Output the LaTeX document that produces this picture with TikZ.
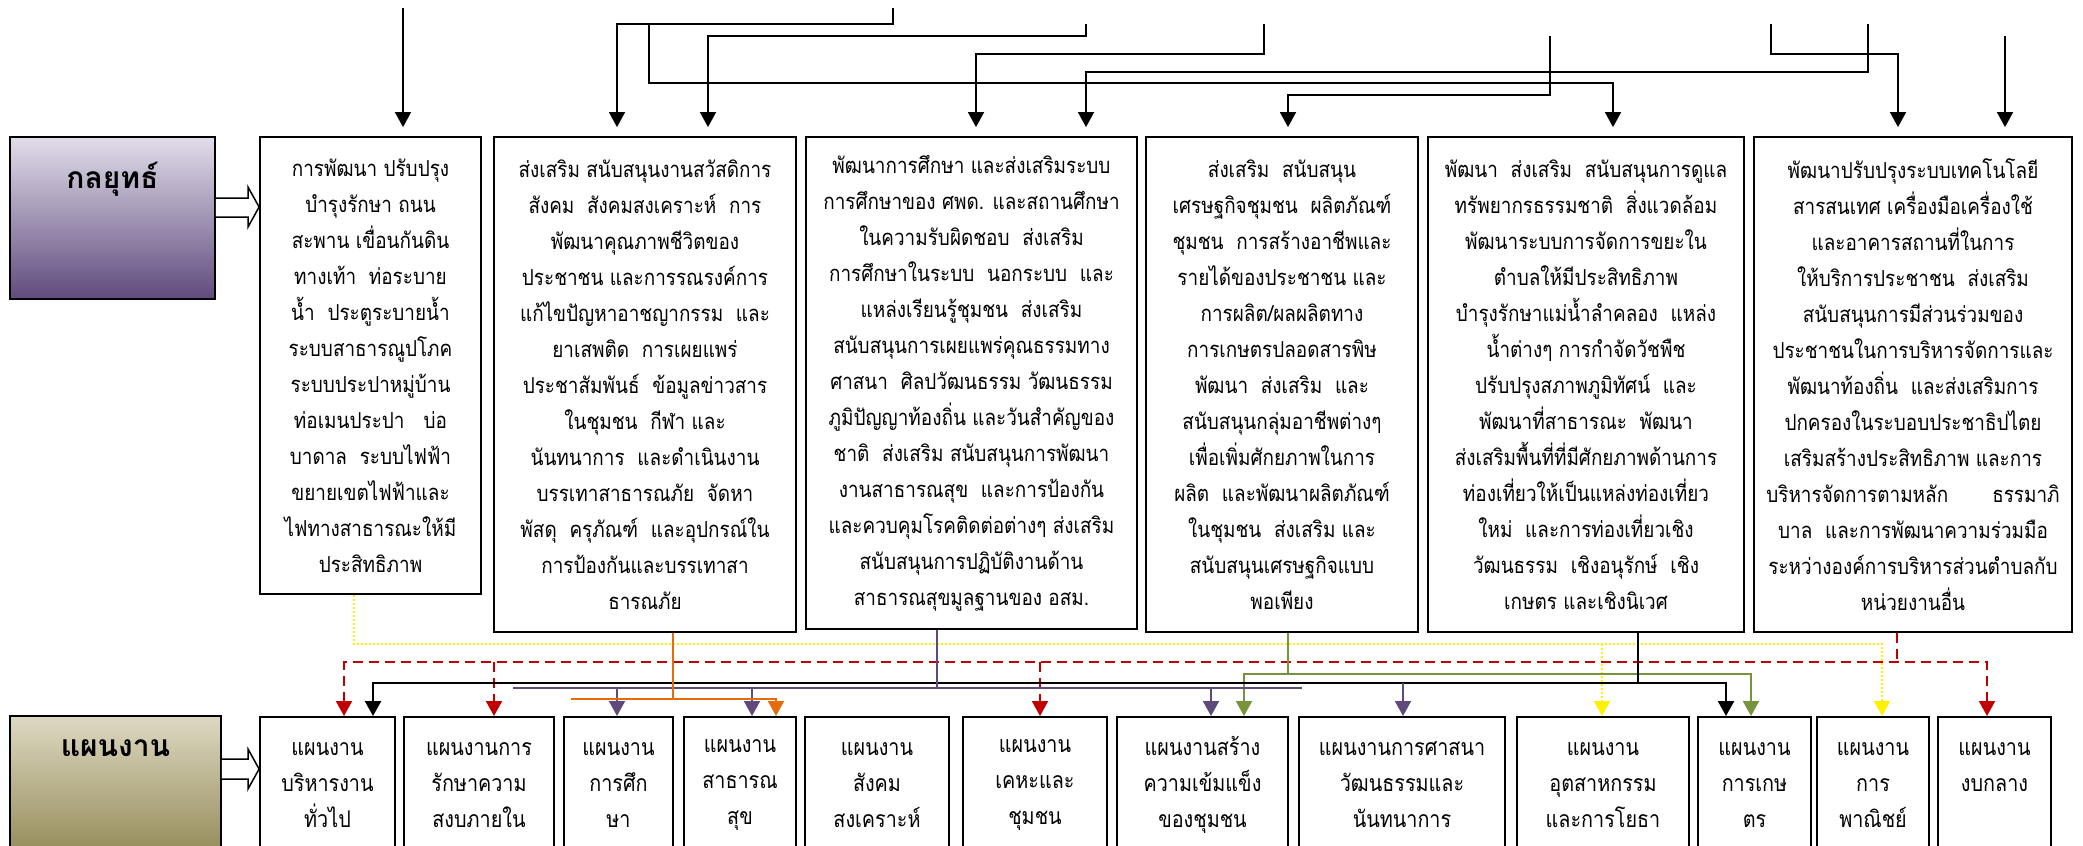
\documentclass[tikz,border=0pt]{standalone}
\usepackage{fontspec}
\newfontfamily\thaifont[Script=Thai]{Loma}
\newfontfamily\thainarrow[Script=Thai, FakeStretch=0.86]{Loma}
\usetikzlibrary{arrows.meta,positioning}

\definecolor{strtop}{HTML}{E2DDEA}
\definecolor{strbot}{HTML}{5F4B7D}
\definecolor{plantop}{HTML}{DDD8C2}
\definecolor{planbot}{HTML}{8F8550}
\definecolor{rred}{HTML}{C00000}
\definecolor{oorange}{HTML}{E46C0A}
\definecolor{ppurple}{HTML}{604A7B}
\definecolor{ggreen}{HTML}{77933C}

\tikzset{
  stratbox/.style={draw, line width=1.8pt, fill=white, align=center, inner sep=0pt,
    font=\thainarrow\fontsize{22}{36}\selectfont},
  planbox/.style={draw, line width=1.8pt, fill=white, align=center, inner sep=0pt,
    anchor=north, minimum height=136pt, font=\thainarrow\fontsize{23}{36}\selectfont},
  headbox/.style={draw, line width=1.8pt, inner sep=0pt},
  headtxt/.style={inner sep=0pt, font=\thaifont\bfseries\fontsize{30}{36}\selectfont},
  hollow/.style={draw, line width=1.5pt, fill=white, line join=miter},
  endtip/.style={-{Triangle[length=15pt,width=16pt]}},
  bothtip/.style={{Triangle[length=15pt,width=16pt]}-{Triangle[length=15pt,width=16pt]}},
  conn/.style={line width=1.6pt, endtip, shorten >=9pt},
  kline/.style={line width=2.4pt},
  rline/.style={rred, line width=2pt, dash pattern=on 10pt off 6pt},
  yline/.style={yellow, line width=1.6pt, dash pattern=on 1.6pt off 2.4pt},
  gline/.style={ggreen, line width=2pt},
  vline/.style={ppurple, line width=2pt},
  oline/.style={oorange, line width=2pt},
}

\newcommand{\stratboxes}{
  s1/260/481/594/{การพัฒนา ปรับปรุง\\บำรุงรักษา ถนน\\สะพาน เขื่อนกันดิน\\ทางเท้า~ ท่อระบาย\\น้ำ~ ประตูระบายน้ำ\\ระบบสาธารณูปโภค\\ระบบประปาหมู่บ้าน\\ท่อเมนประปา~~ บ่อ\\บาดาล~ ระบบไฟฟ้า\\ขยายเขตไฟฟ้าและ\\ไฟทางสาธารณะให้มี\\ประสิทธิภาพ},
  s2/494/796/632/{ส่งเสริม สนับสนุนงานสวัสดิการ\\สังคม~ สังคมสงเคราะห์~ การ\\พัฒนาคุณภาพชีวิตของ\\ประชาชน และการรณรงค์การ\\แก้ไขปัญหาอาชญากรรม~ และ\\ยาเสพติด~ การเผยแพร่\\ประชาสัมพันธ์~ ข้อมูลข่าวสาร\\ในชุมชน~ กีฬา และ\\นันทนาการ~ และดำเนินงาน\\บรรเทาสาธารณภัย~ จัดหา\\พัสดุ~ ครุภัณฑ์~ และอุปกรณ์ใน\\การป้องกันและบรรเทาสา\\ธารณภัย},
  s3/806/1137/629/{พัฒนาการศึกษา และส่งเสริมระบบ\\การศึกษาของ ศพด. และสถานศึกษา\\ในความรับผิดชอบ~ ส่งเสริม\\การศึกษาในระบบ~ นอกระบบ~ และ\\แหล่งเรียนรู้ชุมชน~ ส่งเสริม\\สนับสนุนการเผยแพร่คุณธรรมทาง\\ศาสนา~ ศิลปวัฒนธรรม วัฒนธรรม\\ภูมิปัญญาท้องถิ่น และวันสำคัญของ\\ชาติ~ ส่งเสริม สนับสนุนการพัฒนา\\งานสาธารณสุข~ และการป้องกัน\\และควบคุมโรคติดต่อต่างๆ ส่งเสริม\\สนับสนุนการปฏิบัติงานด้าน\\สาธารณสุขมูลฐานของ อสม.},
  s4/1146/1418/632/{ส่งเสริม~ สนับสนุน\\เศรษฐกิจชุมชน~ ผลิตภัณฑ์\\ชุมชน~ การสร้างอาชีพและ\\รายได้ของประชาชน และ\\การผลิต/ผลผลิตทาง\\การเกษตรปลอดสารพิษ\\พัฒนา~ ส่งเสริม~ และ\\สนับสนุนกลุ่มอาชีพต่างๆ\\เพื่อเพิ่มศักยภาพในการ\\ผลิต~ และพัฒนาผลิตภัณฑ์\\ในชุมชน~ ส่งเสริม และ\\สนับสนุนเศรษฐกิจแบบ\\พอเพียง},
  s5/1428/1744/632/{พัฒนา~ ส่งเสริม~ สนับสนุนการดูแล\\ทรัพยากรธรรมชาติ~ สิ่งแวดล้อม\\พัฒนาระบบการจัดการขยะใน\\ตำบลให้มีประสิทธิภาพ\\บำรุงรักษาแม่น้ำลำคลอง~ แหล่ง\\น้ำต่างๆ การกำจัดวัชพืช\\ปรับปรุงสภาพภูมิทัศน์~ และ\\พัฒนาที่สาธารณะ~ พัฒนา\\ส่งเสริมพื้นที่ที่มีศักยภาพด้านการ\\ท่องเที่ยวให้เป็นแหล่งท่องเที่ยว\\ใหม่~ และการท่องเที่ยวเชิง\\วัฒนธรรม~ เชิงอนุรักษ์~ เชิง\\เกษตร และเชิงนิเวศ},
  s6/1754/2072/632/{พัฒนาปรับปรุงระบบเทคโนโลยี\\สารสนเทศ เครื่องมือเครื่องใช้\\และอาคารสถานที่ในการ\\ให้บริการประชาชน~ ส่งเสริม\\สนับสนุนการมีส่วนร่วมของ\\ประชาชนในการบริหารจัดการและ\\พัฒนาท้องถิ่น~ และส่งเสริมการ\\ปกครองในระบอบประชาธิปไตย\\เสริมสร้างประสิทธิภาพ และการ\\บริหารจัดการตามหลัก\quad\quad ธรรมาภิ\\บาล~ และการพัฒนาความร่วมมือ\\ระหว่างองค์การบริหารส่วนตำบลกับ\\หน่วยงานอื่น}}

\newcommand{\planboxes}{
  p1/260/395/{แผนงาน\\บริหารงาน\\ทั่วไป},
  p2/404/554/{แผนงานการ\\รักษาความ\\สงบภายใน},
  p3/564/673/{แผนงาน\\การศึก\\ษา},
  p4/684/796/{แผนงาน\\สาธารณ\\สุข},
  p5/805/949/{แผนงาน\\สังคม\\สงเคราะห์},
  p6/963/1107/{แผนงาน\\เคหะและ\\ชุมชน},
  p7/1117/1288/{แผนงานสร้าง\\ความเข้มแข็ง\\ของชุมชน},
  p8/1299/1505/{แผนงานการศาสนา\\วัฒนธรรมและ\\นันทนาการ},
  p9/1517/1689/{แผนงาน\\อุตสาหกรรม\\และการโยธา},
  p10/1698/1811/{แผนงาน\\การเกษ\\ตร},
  p11/1817/1929/{แผนงาน\\การ\\พาณิชย์},
  p12/1938/2051/{แผนงาน\\งบกลาง\\\mbox{}}}

\begin{document}
\begin{tikzpicture}[x=1pt, y=-1pt]
\useasboundingbox (0,0) rectangle (2083,846);
\clip (0,0) rectangle (2083,846);
\fill[white] (0,0) rectangle (2083,846);

% headers
\node[headbox, top color=strtop, bottom color=strbot, minimum width=205pt, minimum height=162pt] (hdr1) at (112.5,218) {};
\node[headtxt, below=26pt of hdr1.north] (hdr1t) {กลยุทธ์};
\node[headbox, top color=plantop, bottom color=planbot, minimum width=211pt, minimum height=150pt, anchor=north] (hdr2) at (115.5,715) {};
\node[headtxt, below=24pt of hdr2.north] (hdr2t) {แผนงาน};

% strategy boxes
\foreach \n/\l/\r/\b/\txt in \stratboxes {
  \pgfmathsetmacro{\w}{\r-\l}
  \pgfmathsetmacro{\h}{\b-137}
  \node[stratbox, minimum width=\w pt, minimum height=\h pt] (\n) at ({(\l+\r)/2},{(137+\b)/2}) {\txt};
}

% plan boxes
\foreach \n/\l/\r/\txt in \planboxes {
  \pgfmathsetmacro{\w}{\r-\l}
  \node[planbox, minimum width=\w pt] (\n) at ({(\l+\r)/2},716) {\txt};
}

% hollow arrows
\draw[hollow] (hdr1.east |- 0,198) -- (248,198) -- (248,187) -- (s1.west |- 0,207) -- (248,227) -- (248,217) -- (hdr1.east |- 0,217);
\draw[hollow] (hdr2.east |- 0,759) -- (248,759) -- (248,749) -- (p1.west |- 0,769) -- (248,789) -- (248,779) -- (hdr2.east |- 0,779);

% lines from above
\coordinate (t1) at (403,8);
\coordinate (t2) at (893,8);
\coordinate (j2) at (649,24);
\coordinate (t3) at (1086,24);
\coordinate (t4) at (1264,24);
\coordinate (t5) at (1868,24);
\coordinate (t6) at (1550,36);
\coordinate (t7) at (1771,24);
\coordinate (t8) at (2005,36);
\draw[conn] (t1) -- (s1.north -| t1);
\draw[conn] (t2) |- (617,24) -- (s2.north -| 617,0);
\draw[conn] (j2) |- (1613,83) -- (s5.north -| 1613,0);
\draw[conn] (t3) |- (708,36) -- (s2.north -| 708,0);
\draw[conn] (t4) |- (976,54) -- (s3.north -| 976,0);
\draw[conn] (t5) |- (1086,72) -- (s3.north -| 1086,0);
\draw[conn] (t6) |- (1288,95) -- (s4.north -| 1288,0);
\draw[conn] (t7) |- (1898,54) -- (s6.north -| 1898,0);
\draw[conn] (t8) -- (s6.north -| t8);

% strategy -> plan
\draw[yline, endtip] (s1.south -| 354,0) |- (1882,644) -- (p11.north -| 1882,0);
\draw[yline, endtip] (1602,644) -- (p9.north -| 1602,0);

\draw[rline] (s6.south -| 1897,0) -- (1897,662);
\draw[rline, bothtip] (p1.north -| 344,0) |- (1987,662) -- (p12.north -| 1987,0);
\foreach \x/\p in {494/p2, 1040/p6}
  \draw[rline, endtip] (\x,662) -- (\p.north -| \x,0);

\draw[gline] (s4.south -| 1288,0) -- (1288,674);
\draw[gline, bothtip] (p7.north -| 1244,0) |- (1751,674) -- (p10.north -| 1751,0);

\draw[kline] (s5.south -| 1638,0) -- (1638,683);
\draw[kline, bothtip] (p1.north -| 373,0) |- (1726,683) -- (p10.north -| 1726,0);

\draw[vline] (s3.south -| 937,0) -- (937,688);
\draw[vline] (513,688) -- (1302,688);
\foreach \x/\p in {617/p3, 752/p4, 1211/p7}
  \draw[vline, endtip] (\x,688) -- (\p.north -| \x,0);
\draw[vline, endtip] (1403,683) -- (p8.north -| 1403,0);

\draw[oline] (s2.south -| 673,0) -- (673,699);
\draw[oline, endtip] (571,699) -| (p4.north -| 776,0);
\end{tikzpicture}
\end{document}
